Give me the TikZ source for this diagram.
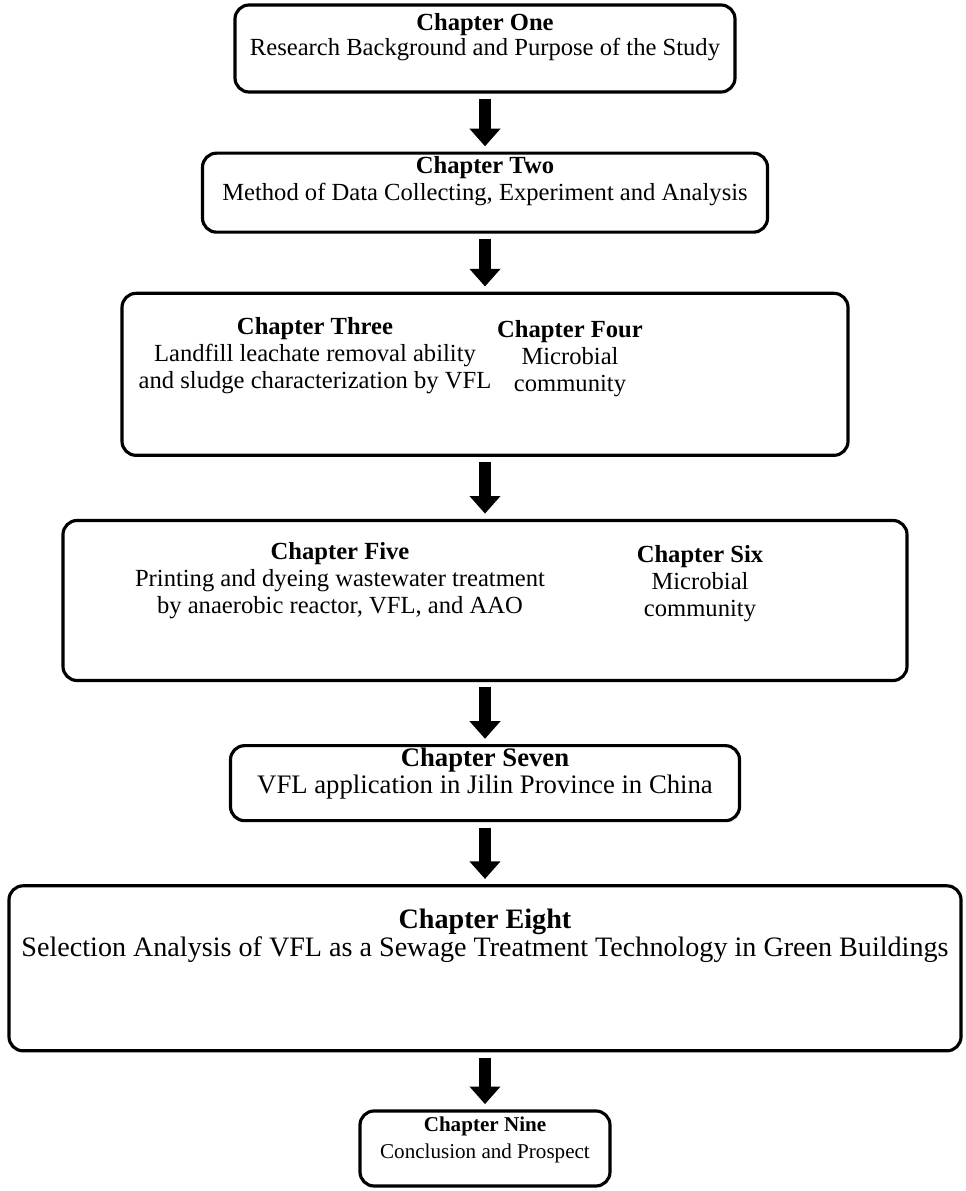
\documentclass[tikz,border=0pt]{standalone}
\usepackage{fontspec}
\setmainfont{Liberation Serif}
\usepackage{tikz}
\usetikzlibrary{arrows.meta,positioning}
\tikzset{
  chapbox/.style={rectangle, rounded corners=8pt, draw=black, line width=1.8pt,
    inner sep=0pt},
  chaptext/.style={align=center, font=\fontsize{14}{15.5}\selectfont, inner sep=0pt},
  downarrow/.style={-{Triangle[width=17pt,length=10pt]}, line width=7pt,
    shorten <=3pt, shorten >=3pt},
}

\begin{document}
\begin{tikzpicture}[node distance=1.2cm]
\useasboundingbox (0,0) rectangle (19.32,-23.82);

% frames
\node[chapbox, minimum width=10cm, minimum height=1.74cm] (one) at (9.7,-0.97) {};
\node[chapbox, minimum width=11.3cm, minimum height=1.58cm, below=1.16cm of one] (two) {};
\node[chapbox, minimum width=14.52cm, minimum height=3.24cm, below=1.16cm of two] (three) {};
\node[chapbox, minimum width=16.88cm, minimum height=3.2cm, below=1.24cm of three] (five) {};
\node[chapbox, minimum width=10.18cm, minimum height=1.5cm, below=1.24cm of five] (seven) {};
\node[chapbox, minimum width=19.04cm, minimum height=3.3cm, below=1.24cm of seven] (eight) {};
\node[chapbox, minimum width=5cm, minimum height=1.5cm, below=1.14cm of eight] (nine) {};

% texts
\node[chaptext, below=0.2cm of one.north] (onetxt) {\textbf{Chapter One}\\[-1.5pt]Research Background and Purpose of the Study};
\node[chaptext, below=0.08cm of two.north] (twotxt) {\textbf{Chapter Two}\\Method of Data Collecting, Experiment and Analysis};
\node[chaptext, below=0.5cm of three.north, xshift=-3.4cm] (threetxt) {\textbf{Chapter Three}\\Landfill leachate removal ability\\and sludge characterization by VFL};
\node[chaptext, below=0.56cm of three.north, xshift=1.7cm] (fourtxt) {\textbf{Chapter Four}\\Microbial\\community};
\node[chaptext, below=0.46cm of five.north, xshift=-2.9cm] (fivetxt) {\textbf{Chapter Five}\\Printing and dyeing wastewater treatment\\by anaerobic reactor, VFL, and AAO};
\node[chaptext, below=0.52cm of five.north, xshift=4.3cm] (sixtxt) {\textbf{Chapter Six}\\Microbial\\community};
\node[chaptext, font=\fontsize{15.2}{15}\selectfont, below=0.08cm of seven.north] (seventxt) {\textbf{Chapter Seven}\\VFL application in Jilin Province in China};
\node[chaptext, font=\fontsize{16}{16}\selectfont, below=0.48cm of eight.north] (eighttxt) {\textbf{Chapter Eight}\\Selection Analysis of VFL as a Sewage Treatment Technology in Green Buildings};
\node[chaptext, font=\fontsize{12}{15.5}\selectfont, below=0.14cm of nine.north] (ninetxt) {\textbf{Chapter Nine}\\Conclusion and Prospect};

% arrows
\draw[downarrow] (one) -- (two);
\draw[downarrow] (two) -- (three);
\draw[downarrow] (three) -- (five);
\draw[downarrow] (five) -- (seven);
\draw[downarrow] (seven) -- (eight);
\draw[downarrow] (eight) -- (nine);
\end{tikzpicture}
\end{document}
